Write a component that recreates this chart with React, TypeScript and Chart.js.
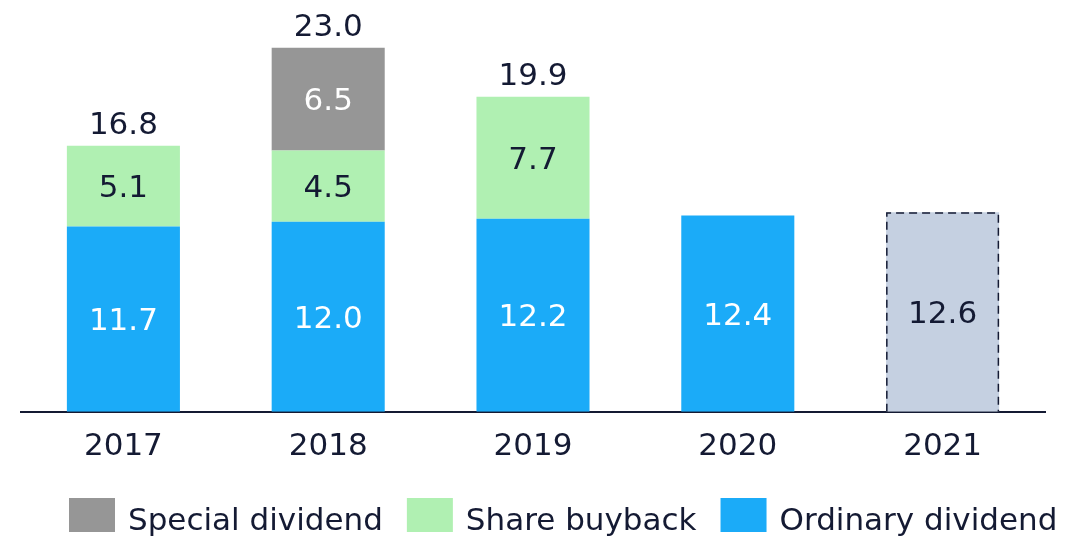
import React, { useEffect, useRef } from "react";
import { Chart, registerables } from "chart.js";

Chart.register(...registerables);

const categories = ["2017", "2018", "2019", "2020", "2021"];
const ordinaryDividend = [11.7, 12.0, 12.2, 12.4, 12.6];
const shareBuyback: (number | null)[] = [5.1, 4.5, 7.7, null, null];
const specialDividend: (number | null)[] = [null, 6.5, null, null, null];
const isOutlook = [false, false, false, false, true];
const legendOrder = ["Special dividend", "Share buyback", "Ordinary dividend"];

const FONT = "'DejaVu Sans', Verdana, sans-serif";
const NAVY = "#141a33";
const BLUE = "#1babf8";
const GREEN = "#b0f0b2";
const GRAY = "#969696";
const OUTLOOK = "#c5d0e1";

const labelsPlugin = {
  id: "valueLabels",
  afterDatasetsDraw(chart: any) {
    const ctx = chart.ctx;
    ctx.save();
    ctx.font = `31px ${FONT}`;
    ctx.textAlign = "center";
    chart.data.datasets.forEach((ds: any, di: number) => {
      const meta = chart.getDatasetMeta(di);
      meta.data.forEach((el: any, i: number) => {
        const v = ds.data[i];
        if (v === null || v === undefined) return;
        const outlook = isOutlook[i];
        if (outlook) {
          const left = el.x - el.width / 2;
          ctx.save();
          ctx.setLineDash([8, 5]);
          ctx.lineWidth = 1.5;
          ctx.strokeStyle = NAVY;
          ctx.beginPath();
          ctx.moveTo(left + 0.75, el.base);
          ctx.lineTo(left + 0.75, el.y + 0.75);
          ctx.lineTo(left + el.width - 0.75, el.y + 0.75);
          ctx.lineTo(left + el.width - 0.75, el.base);
          ctx.stroke();
          ctx.restore();
        }
        ctx.fillStyle = ds.labelColor === "white" && !outlook ? "#ffffff" : NAVY;
        ctx.textBaseline = "middle";
        ctx.fillText(v.toFixed(1), el.x, (el.y + el.base) / 2 + 3);
      });
    });
    const y = chart.scales.y;
    categories.forEach((_, i) => {
      const parts = chart.data.datasets
        .map((ds: any) => ds.data[i])
        .filter((v: any) => v !== null && v !== undefined);
      if (parts.length < 2) return;
      const total = parts.reduce((a: number, b: number) => a + b, 0);
      const el = chart.getDatasetMeta(0).data[i];
      ctx.fillStyle = NAVY;
      ctx.textBaseline = "alphabetic";
      ctx.fillText(total.toFixed(1), el.x, y.getPixelForValue(total) - 12);
    });
    ctx.restore();
  },
};

const legendPlugin = {
  id: "bottomLegend",
  afterDraw(chart: any) {
    const ctx = chart.ctx;
    ctx.save();
    ctx.font = `31px ${FONT}`;
    ctx.textBaseline = "alphabetic";
    ctx.textAlign = "left";
    let x = 69;
    legendOrder.forEach((name) => {
      const ds = chart.data.datasets.find((d: any) => d.label === name);
      const color = Array.isArray(ds.backgroundColor) ? ds.backgroundColor[0] : ds.backgroundColor;
      ctx.fillStyle = color;
      ctx.fillRect(x, 498, 46, 34);
      x += 46 + 13;
      ctx.fillStyle = NAVY;
      ctx.fillText(name, x, 530);
      x += ctx.measureText(name).width + 24;
    });
    ctx.restore();
  },
};

export default function App() {
  const ref = useRef<HTMLCanvasElement>(null);
  useEffect(() => {
    if (!ref.current) return;
    const chart = new Chart(ref.current, {
      type: "bar",
      data: {
        labels: categories,
        datasets: [
          {
            label: "Ordinary dividend",
            data: ordinaryDividend,
            backgroundColor: isOutlook.map((o) => (o ? OUTLOOK : BLUE)),
            labelColor: "white",
          } as any,
          {
            label: "Share buyback",
            data: shareBuyback,
            backgroundColor: GREEN,
            labelColor: "dark",
          } as any,
          {
            label: "Special dividend",
            data: specialDividend,
            backgroundColor: GRAY,
            labelColor: "white",
          } as any,
        ],
      },
      options: {
        animation: false,
        responsive: true,
        maintainAspectRatio: false,
        layout: { padding: { top: 16, left: 21, right: 46, bottom: 56 } },
        datasets: { bar: { categoryPercentage: 1, barPercentage: 0.552 } },
        plugins: { legend: { display: false }, tooltip: { enabled: false } },
        scales: {
          x: {
            stacked: true,
            z: 1,
            grid: { display: false, drawTicks: false },
            border: { display: true, color: NAVY, width: 2 },
            ticks: { color: NAVY, font: { family: FONT, size: 31 }, padding: 17 },
          },
          y: { stacked: true, display: false, min: 0, max: 25 },
        },
      },
      plugins: [labelsPlugin, legendPlugin],
    });
    return () => chart.destroy();
  }, []);
  return (
    <div style={{ position: "fixed", left: 0, top: 0, width: 1091, height: 539, background: "#fff" }}>
      <canvas ref={ref} />
    </div>
  );
}
